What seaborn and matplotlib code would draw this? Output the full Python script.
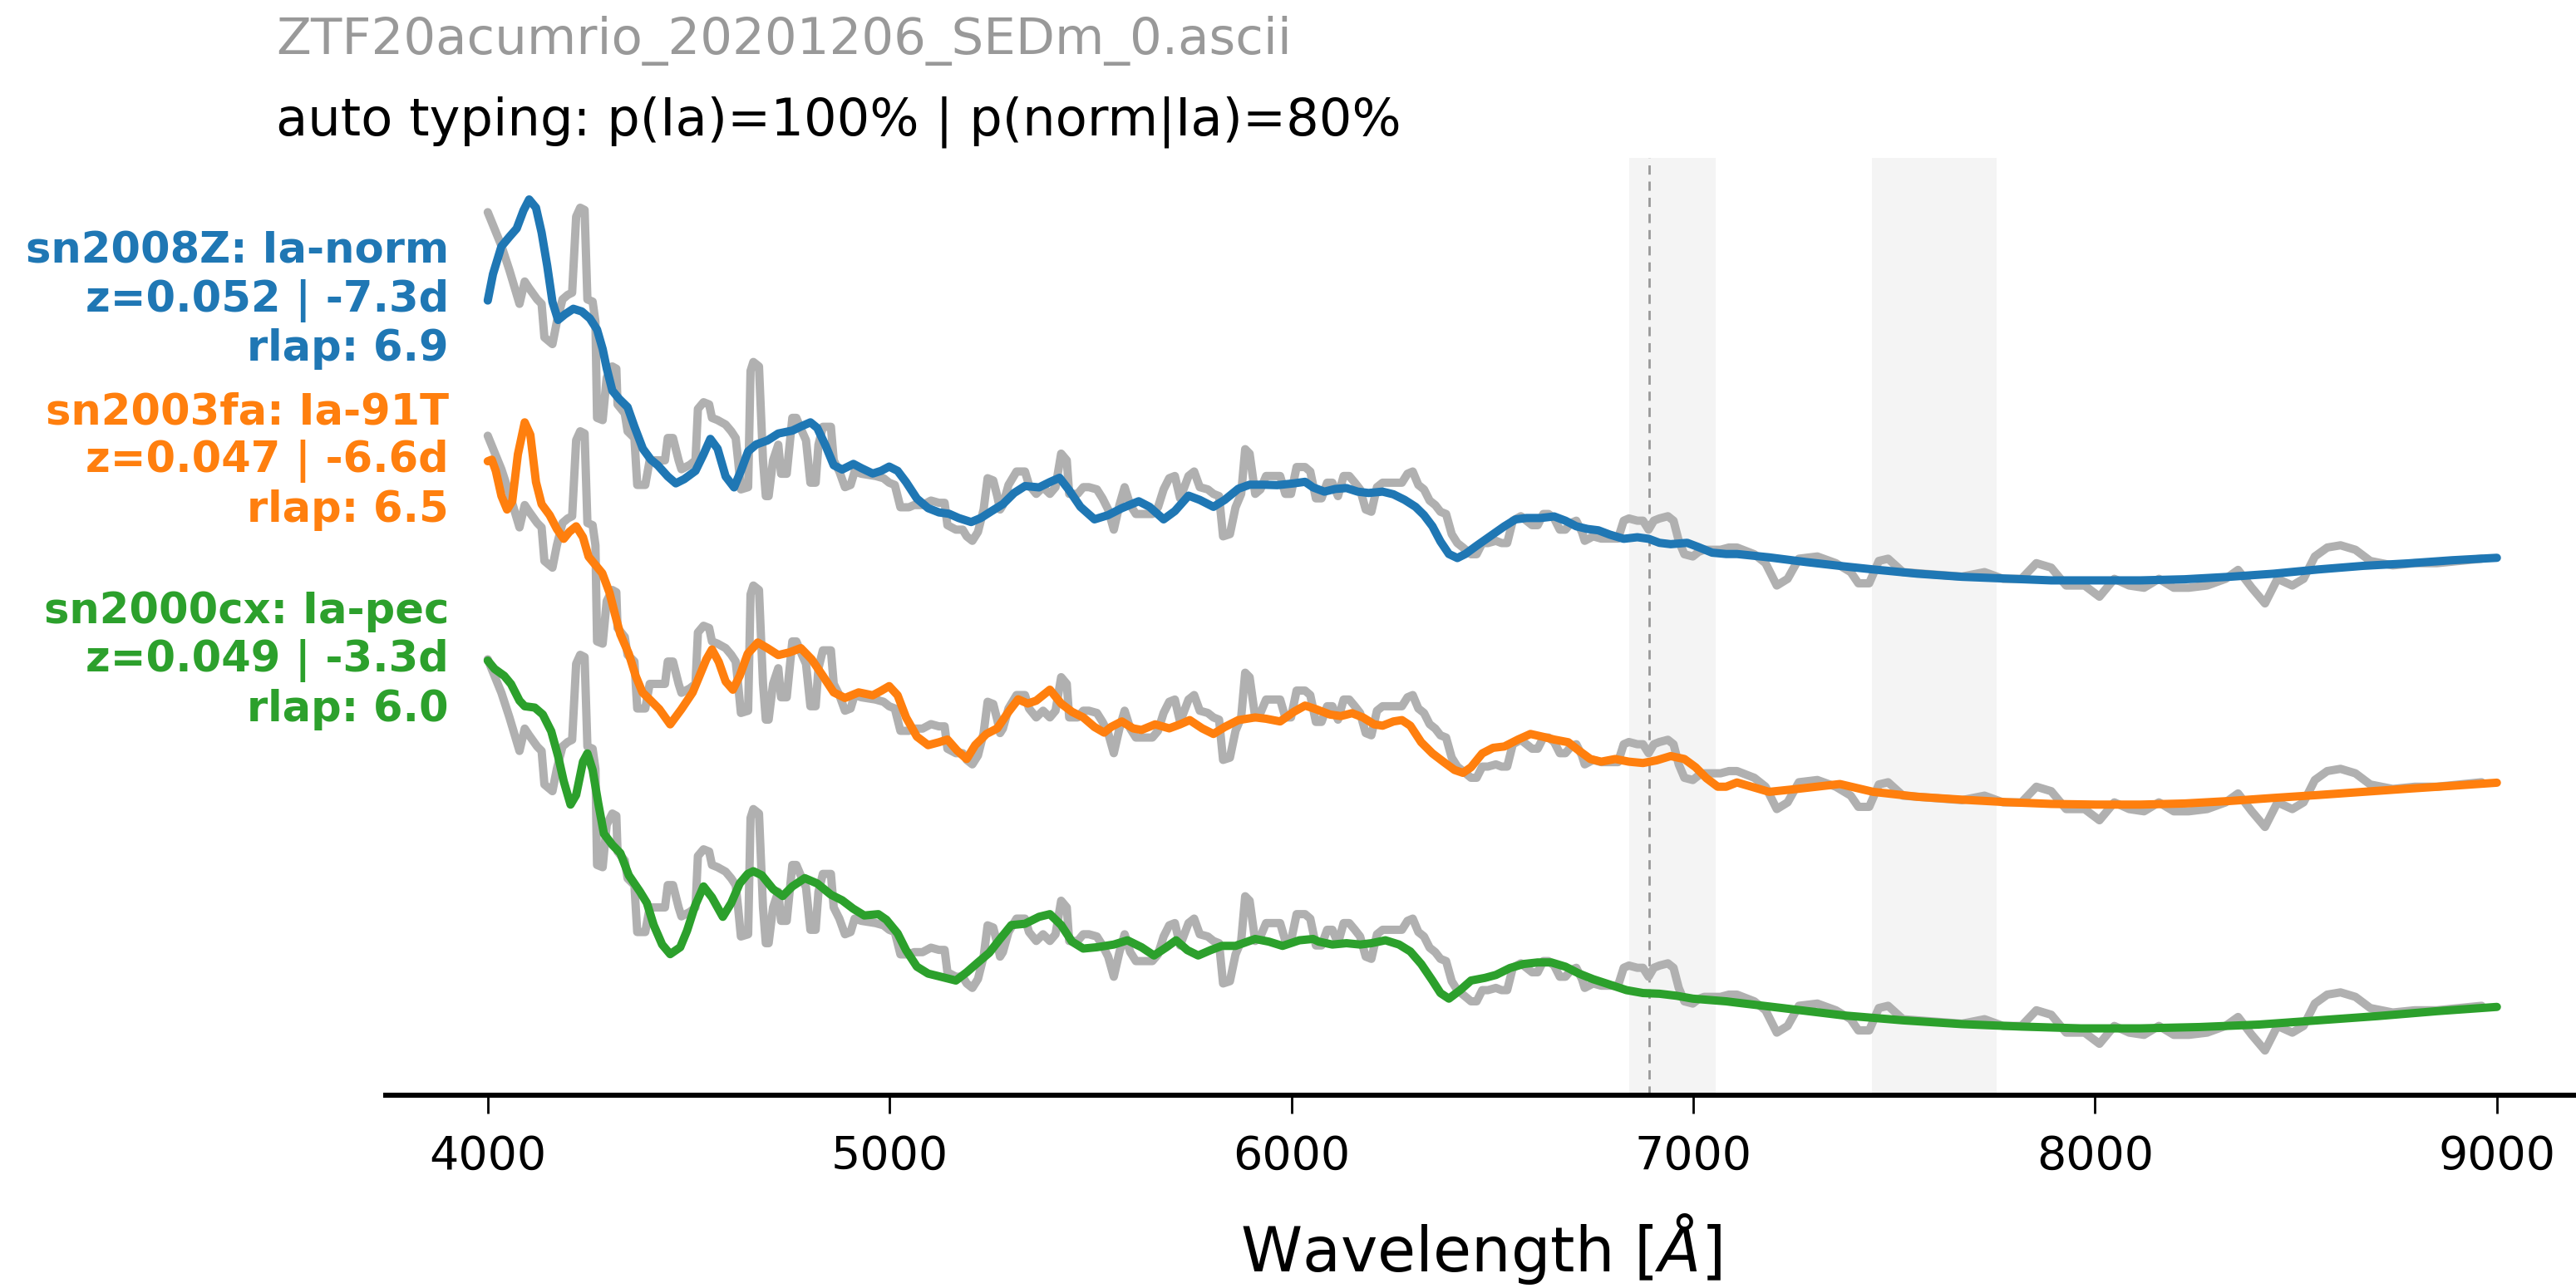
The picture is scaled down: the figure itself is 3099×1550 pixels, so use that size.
import numpy as np
import matplotlib
matplotlib.use("Agg")
import matplotlib.pyplot as plt
import seaborn as sns

# ---------------- data ----------------
OBS_WAVE = [4000, 4034, 4054, 4079, 4092, 4103, 4123, 4134, 4141, 4161, 4172, 4186, 4199, 4210, 4220, 4230,
            4241, 4248, 4261, 4268, 4272, 4286, 4296, 4310, 4320, 4323, 4341, 4348, 4365, 4372, 4392, 4403,
            4420, 4441, 4448, 4461, 4475, 4482, 4503, 4517, 4523, 4537, 4551, 4558, 4572, 4592, 4606, 4617,
            4623, 4630, 4648, 4654, 4661, 4675, 4685, 4692, 4699, 4710, 4723, 4730, 4744, 4758, 4768, 4782,
            4792, 4803, 4816, 4823, 4834, 4854, 4861, 4875, 4889, 4903, 4913, 4930, 4965, 4985,
            4999, 5013, 5027, 5048, 5061, 5082, 5103, 5123, 5137, 5144, 5165, 5182, 5192, 5206, 5220, 5234,
            5244, 5258, 5268, 5275, 5282, 5296, 5316, 5337, 5347, 5365, 5382, 5399, 5413, 5427, 5441, 5447,
            5468, 5482, 5496, 5516, 5530, 5544, 5558, 5572, 5585, 5599, 5613, 5634, 5654, 5668, 5682, 5696,
            5710, 5723, 5744, 5758, 5772, 5792, 5806, 5820, 5830, 5847, 5861, 5875, 5885, 5896, 5910, 5923,
            5937, 5951, 5972, 5985, 5999, 6013,
            6034, 6047, 6061, 6075, 6089, 6102, 6116, 6130, 6144, 6158, 6171, 6185, 6199, 6213, 6227, 6254,
            6275, 6289, 6302, 6316, 6330, 6344, 6358, 6371, 6385, 6399, 6413, 6427, 6447, 6461, 6475, 6489,
            6509, 6523, 6537, 6551, 6571, 6585, 6599, 6613, 6627, 6640, 6654, 6668, 6682, 6696, 6709, 6723,
            6730, 6751, 6771, 6792, 6813, 6827, 6840, 6861, 6875, 6889, 6902, 6916, 6937, 6951, 6964, 6978,
            6999, 7013, 7027, 7047, 7068, 7089, 7109,
            7152, 7180, 7208, 7235, 7263, 7309, 7355, 7392, 7411, 7438, 7462, 7485, 7522, 7596, 7669, 7725,
            7771, 7817, 7854, 7891, 7928, 7974, 8011, 8048, 8085, 8122, 8159, 8196, 8233, 8279, 8325, 8356,
            8390, 8423, 8454, 8491, 8519, 8547, 8578, 8611, 8648, 8685, 8741, 8796, 8851, 8907, 8962]
OBS_FLUX = [1.95, 1.80, 1.69, 1.54, 1.64, 1.61, 1.56, 1.54, 1.39, 1.36, 1.46, 1.56, 1.58, 1.59, 1.93, 1.97,
            1.96, 1.56, 1.55, 1.46, 1.03, 1.02, 1.21, 1.26, 1.25, 1.09, 1.05, 0.97, 0.94, 0.73, 0.73, 0.84,
            0.84, 0.84, 0.94, 0.94, 0.84, 0.80, 0.82, 0.84, 1.07, 1.10, 1.09, 1.03, 1.02, 1.00, 0.97, 0.94,
            0.84, 0.71, 0.72, 1.24, 1.28, 1.26, 0.84, 0.68, 0.68, 0.84, 0.91, 0.78, 0.78, 1.03, 1.03, 0.97,
            0.93, 0.74, 0.74, 0.91, 0.99, 0.99, 0.84, 0.79, 0.72, 0.73, 0.79, 0.78, 0.77, 0.76,
            0.74, 0.73, 0.63, 0.63, 0.64, 0.64, 0.66, 0.65, 0.65, 0.55, 0.53, 0.53, 0.50, 0.48, 0.52, 0.62,
            0.76, 0.75, 0.68, 0.62, 0.64, 0.73, 0.79, 0.79, 0.73, 0.69, 0.72, 0.69, 0.72, 0.87, 0.84, 0.69,
            0.69, 0.72, 0.72, 0.71, 0.67, 0.62, 0.53, 0.64, 0.72, 0.64, 0.60, 0.60, 0.60, 0.63, 0.71, 0.76,
            0.77, 0.67, 0.77, 0.79, 0.72, 0.71, 0.69, 0.68, 0.50, 0.51, 0.63, 0.69, 0.89, 0.87, 0.69, 0.71,
            0.77, 0.77, 0.77, 0.69, 0.69, 0.81,
            0.81, 0.79, 0.67, 0.67, 0.74, 0.74, 0.68, 0.77, 0.77, 0.74, 0.71, 0.62, 0.61, 0.72, 0.74, 0.74,
            0.74, 0.78, 0.79, 0.73, 0.71, 0.66, 0.64, 0.61, 0.60, 0.51, 0.47, 0.45, 0.42, 0.42, 0.47, 0.47,
            0.48, 0.47, 0.47, 0.57, 0.59, 0.57, 0.55, 0.55, 0.60, 0.60, 0.58, 0.53, 0.53, 0.56, 0.57, 0.52,
            0.48, 0.50, 0.49, 0.49, 0.49, 0.57, 0.58, 0.57, 0.57, 0.53, 0.57, 0.58, 0.59, 0.57, 0.48, 0.42,
            0.41, 0.43, 0.44, 0.44, 0.44, 0.45, 0.45,
            0.42, 0.38, 0.28, 0.31, 0.40, 0.41, 0.38, 0.34, 0.29, 0.29, 0.39, 0.40, 0.34, 0.33, 0.32, 0.34,
            0.31, 0.31, 0.38, 0.36, 0.28, 0.28, 0.23, 0.31, 0.28, 0.27, 0.31, 0.27, 0.27, 0.28, 0.31, 0.35,
            0.27, 0.20, 0.31, 0.28, 0.31, 0.41, 0.45, 0.46, 0.44, 0.39, 0.37, 0.38, 0.38, 0.39, 0.40]

SN2008Z_WAVE = [4000, 4013, 4034, 4054, 4072, 4089, 4103, 4120, 4134, 4148, 4161, 4175, 4192, 4213, 4234, 4254,
                4272, 4286, 4296, 4310, 4327, 4348, 4365, 4386, 4406, 4423, 4448, 4468, 4489, 4517, 4537, 4554,
                4572, 4592, 4613, 4630, 4648, 4668, 4696, 4723, 4758, 4779, 4803, 4820, 4841, 4861, 4882, 4910,
                4930, 4958, 4979, 4999, 5020, 5041, 5068, 5096, 5123, 5148, 5172, 5203, 5227, 5254, 5282, 5310,
                5337, 5372, 5399, 5423, 5447, 5475, 5510, 5544, 5578, 5620, 5647, 5682, 5710, 5744, 5772, 5806,
                5834, 5868, 5896, 5930, 5965, 6006, 6034, 6054, 6082, 6109, 6137, 6165, 6192, 6227, 6254, 6282,
                6309, 6330, 6351, 6371, 6392, 6413, 6433, 6461, 6496, 6530, 6558, 6585, 6620, 6654, 6682, 6709,
                6737, 6764, 6792, 6827, 6861, 6889, 6916, 6944, 6985, 7013, 7047, 7082, 7109, 7189, 7281, 7374,
                7448, 7558, 7669, 7780, 7891, 8002, 8113, 8223, 8334, 8445, 8556, 8667, 8778, 8888, 9000]
SN2008Z_FLUX = [1.555, 1.673, 1.797, 1.840, 1.877, 1.958, 2.007, 1.970, 1.859, 1.710, 1.549, 1.468, 1.493, 1.518,
                1.506, 1.475, 1.425, 1.338, 1.252, 1.152, 1.115, 1.078, 0.991, 0.892, 0.843, 0.818, 0.768, 0.737,
                0.756, 0.793, 0.867, 0.936, 0.892, 0.768, 0.719, 0.793, 0.880, 0.911, 0.929, 0.960, 0.973, 0.991,
                1.010, 0.985, 0.905, 0.818, 0.799, 0.824, 0.805, 0.781, 0.793, 0.812, 0.793, 0.743, 0.669, 0.626,
                0.607, 0.601, 0.582, 0.564, 0.582, 0.613, 0.644, 0.694, 0.725, 0.719, 0.743, 0.762, 0.706, 0.632,
                0.576, 0.595, 0.626, 0.657, 0.632, 0.576, 0.613, 0.682, 0.663, 0.632, 0.663, 0.713, 0.731, 0.731,
                0.729, 0.737, 0.744, 0.719, 0.700, 0.712, 0.716, 0.700, 0.694, 0.700, 0.688, 0.663, 0.632, 0.595,
                0.545, 0.477, 0.421, 0.403, 0.421, 0.458, 0.502, 0.545, 0.576, 0.582, 0.582, 0.589, 0.570, 0.545,
                0.533, 0.527, 0.508, 0.489, 0.496, 0.489, 0.471, 0.465, 0.471, 0.452, 0.427, 0.421, 0.421, 0.406,
                0.385, 0.366, 0.352, 0.333, 0.319, 0.311, 0.303, 0.303, 0.303, 0.308, 0.319, 0.333, 0.352, 0.368,
                0.379, 0.393, 0.404]

SN2003FA_WAVE = [4000, 4010, 4020, 4034, 4048, 4061, 4075, 4092, 4106, 4120, 4134, 4154, 4172, 4189, 4203, 4220,
                 4237, 4251, 4268, 4285, 4303, 4317, 4330, 4351, 4368, 4385, 4406, 4427, 4454, 4482, 4510, 4527,
                 4544, 4558, 4575, 4592, 4610, 4627, 4647, 4672, 4696, 4723, 4751, 4779, 4806, 4834, 4861, 4889,
                 4923, 4958, 4978, 4999, 5020, 5041, 5068, 5096, 5123, 5144, 5168, 5192, 5213, 5241, 5268, 5296,
                 5320, 5344, 5365, 5399, 5427, 5454, 5482, 5510, 5534, 5551, 5578, 5606, 5627, 5661, 5696, 5723,
                 5747, 5778, 5806, 5834, 5868, 5910, 5937, 5972, 6006, 6034, 6061, 6096, 6123, 6151, 6178, 6206,
                 6227, 6254, 6275, 6296, 6323, 6351, 6378, 6406, 6427, 6447, 6475, 6502, 6530, 6564, 6595, 6627,
                 6654, 6689, 6716, 6744, 6771, 6806, 6840, 6875, 6909, 6944, 6978, 7006, 7033, 7061, 7082, 7109,
                 7189, 7263, 7365, 7448, 7558, 7669, 7780, 7891, 8002, 8113, 8223, 8334, 8445, 8556, 8667, 8778,
                 8888, 9000]
SN2003FA_FLUX = [1.836, 1.843, 1.793, 1.681, 1.620, 1.657, 1.867, 2.010, 1.954, 1.743, 1.644, 1.595, 1.533, 1.489,
                 1.520, 1.545, 1.496, 1.409, 1.372, 1.335, 1.248, 1.149, 1.062, 0.975, 0.876, 0.802, 0.765, 0.727,
                 0.659, 0.727, 0.802, 0.876, 0.950, 0.994, 0.938, 0.851, 0.814, 0.876, 0.975, 1.025, 1.000, 0.969,
                 0.981, 1.000, 0.950, 0.876, 0.802, 0.777, 0.802, 0.789, 0.808, 0.830, 0.789, 0.690, 0.604, 0.566,
                 0.579, 0.591, 0.542, 0.504, 0.566, 0.616, 0.641, 0.715, 0.771, 0.752, 0.765, 0.814, 0.752, 0.715,
                 0.690, 0.647, 0.622, 0.647, 0.672, 0.641, 0.634, 0.659, 0.641, 0.659, 0.678, 0.641, 0.616, 0.647,
                 0.678, 0.690, 0.684, 0.672, 0.715, 0.743, 0.727, 0.703, 0.696, 0.709, 0.690, 0.659, 0.653, 0.672,
                 0.678, 0.653, 0.579, 0.529, 0.492, 0.455, 0.442, 0.467, 0.529, 0.554, 0.560, 0.591, 0.616, 0.603,
                 0.591, 0.579, 0.541, 0.504, 0.492, 0.504, 0.492, 0.486, 0.498, 0.517, 0.504, 0.467, 0.418, 0.380,
                 0.380, 0.399, 0.357, 0.371, 0.392, 0.357, 0.335, 0.322, 0.311, 0.303, 0.300, 0.300, 0.305, 0.316,
                 0.330, 0.343, 0.357, 0.371, 0.384, 0.398]

SN2000CX_WAVE = [4000, 4017, 4041, 4058, 4079, 4092, 4117, 4137, 4158, 4175, 4189, 4206, 4220, 4237, 4248, 4261,
                 4275, 4289, 4310, 4330, 4351, 4379, 4396, 4413, 4434, 4454, 4479, 4496, 4516, 4537, 4558, 4585,
                 4606, 4627, 4647, 4661, 4682, 4710, 4734, 4758, 4789, 4820, 4854, 4882, 4909, 4937, 4972, 4992,
                 5020, 5041, 5068, 5096, 5123, 5165, 5192, 5220, 5248, 5275, 5303, 5337, 5372, 5399, 5427, 5454,
                 5482, 5516, 5558, 5592, 5627, 5658, 5689, 5713, 5741, 5768, 5799, 5827, 5861, 5910, 5944, 5978,
                 6020, 6054, 6068, 6102, 6137, 6171, 6199, 6234, 6268, 6296, 6323, 6351, 6371, 6392, 6420, 6447,
                 6482, 6509, 6544, 6578, 6613, 6647, 6682, 6716, 6751, 6792, 6834, 6875, 6916, 6958, 6999, 7040,
                 7082, 7109, 7226, 7374, 7522, 7669, 7817, 7965, 8113, 8260, 8408, 8556, 8704, 8851, 9000]
SN2000CX_FLUX = [1.944, 1.907, 1.876, 1.839, 1.765, 1.740, 1.734, 1.703, 1.628, 1.517, 1.405, 1.300, 1.343, 1.492,
                 1.529, 1.455, 1.306, 1.170, 1.120, 1.083, 0.984, 0.910, 0.860, 0.761, 0.674, 0.631, 0.662, 0.736,
                 0.848, 0.934, 0.885, 0.798, 0.860, 0.947, 0.990, 1.002, 0.984, 0.922, 0.891, 0.934, 0.971, 0.947,
                 0.897, 0.872, 0.835, 0.804, 0.810, 0.785, 0.724, 0.649, 0.575, 0.544, 0.532, 0.513, 0.550, 0.594,
                 0.637, 0.699, 0.761, 0.767, 0.798, 0.810, 0.761, 0.687, 0.656, 0.662, 0.674, 0.693, 0.662, 0.625,
                 0.662, 0.693, 0.649, 0.625, 0.649, 0.668, 0.668, 0.699, 0.687, 0.668, 0.693, 0.699, 0.687, 0.674,
                 0.680, 0.674, 0.680, 0.693, 0.674, 0.643, 0.587, 0.513, 0.457, 0.432, 0.470, 0.513, 0.525, 0.538,
                 0.569, 0.587, 0.594, 0.594, 0.575, 0.544, 0.519, 0.495, 0.470, 0.457, 0.454, 0.445, 0.432, 0.426,
                 0.420, 0.414, 0.389, 0.357, 0.335, 0.318, 0.307, 0.299, 0.299, 0.305, 0.316, 0.335, 0.354, 0.376,
                 0.395]

TEMPLATE_NAMES = ["sn2008Z", "sn2003fa", "sn2000cx"]
TEMPLATE_TYPES = ["Ia-norm", "Ia-91T", "Ia-pec"]
TEMPLATE_Z = [0.052, 0.047, 0.049]
TEMPLATE_AGE = [-7.3, -6.6, -3.3]
TEMPLATE_RLAP = [6.9, 6.5, 6.0]
OFFSETS = [2, 1, 0]
TELLURIC_BANDS = [(6840, 7055), (7445, 7755)]
HALPHA_OBS = 6891
TITLE_FILE = "ZTF20acumrio_20201206_SEDm_0.ascii"
TITLE_TYPING = "auto typing: p(Ia)=100% | p(norm|Ia)=80%"
XTICKS = [4000, 5000, 6000, 7000, 8000, 9000]

# ---------------- plot ----------------
sns.set_theme(style="white")
plt.rcParams["font.family"] = ["DejaVu Sans"]

W, H, DPI = 3099, 1550, 200
fig = plt.figure(figsize=(W / DPI, H / DPI), dpi=DPI)
ax = fig.add_axes([464 / W, 1 - 1318 / H, 1 - 464 / W, (1318 - 190) / H])

colors = ["#1f77b4", "#ff7f0e", "#2ca02c"]
waves = [SN2008Z_WAVE, SN2003FA_WAVE, SN2000CX_WAVE]
fluxes = [SN2008Z_FLUX, SN2003FA_FLUX, SN2000CX_FLUX]

for lo, hi in TELLURIC_BANDS:
    ax.axvspan(lo, hi, color="0.955", lw=0, zorder=0)
ax.axvline(HALPHA_OBS, color="0.6", lw=1.0, ls=(0, (4, 3)), zorder=1)

obs = np.asarray(OBS_FLUX)
for i in range(3):
    sns.lineplot(x=OBS_WAVE, y=obs + OFFSETS[i], color="0.69", lw=3.6, ax=ax,
                 estimator=None, sort=False, zorder=2)
for i in range(3):
    f = np.asarray(fluxes[i]) + OFFSETS[i]
    sns.lineplot(x=waves[i], y=f, color=colors[i], lw=3.6, ax=ax,
                 estimator=None, sort=False, zorder=3)
    label = (f"{TEMPLATE_NAMES[i]}: {TEMPLATE_TYPES[i]}\n"
             f"z={TEMPLATE_Z[i]:.3f} | {TEMPLATE_AGE[i]:.1f}d\n"
             f"rlap: {TEMPLATE_RLAP[i]:.1f}")
    ax.text(3903, f[0], label, ha="right", va="center", color=colors[i],
            fontsize=18.4, fontweight="bold")

ax.set_xlim(3746, 9197)
ax.set_ylim(0, 4.193)
ax.set_yticks([])
ax.set_xticks(XTICKS)
ax.set_xticklabels([str(t) for t in XTICKS])
ax.tick_params(axis="x", bottom=True, length=8, width=1.0, labelsize=20, pad=9, colors="black")
for s in ["left", "top", "right"]:
    ax.spines[s].set_visible(False)
ax.spines["bottom"].set_linewidth(2.2)
ax.spines["bottom"].set_color("black")
ax.set_xlabel(r"Wavelength [$\AA$]", fontsize=27, labelpad=14, color="black")
ax.set_ylabel("")
ax.patch.set_alpha(0)

fig.text(332 / W, 1 - 65 / H, TITLE_FILE, color="0.6", fontsize=22, va="baseline", ha="left")
fig.text(332 / W, 1 - 162 / H, TITLE_TYPING, color="black", fontsize=22.45, va="baseline", ha="left")

fig.savefig("out.png", dpi=DPI)
